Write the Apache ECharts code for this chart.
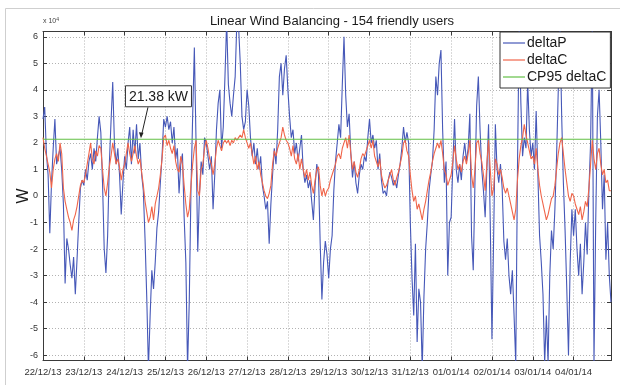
<!DOCTYPE html>
<html>
<head>
<meta charset="utf-8">
<script src="https://cdn.jsdelivr.net/npm/echarts@6/dist/echarts.min.js"></script>
<style>
  html, body { margin: 0; padding: 0; background: #fff; }
  #chart { width: 620px; height: 385px; }
</style>
</head>
<body>
<div id="chart"></div>
<script>
// Day tick labels (one per midnight, x axis counted in hours from 22/12/13 00:00)
const dayLabels = ['22/12/13','23/12/13','24/12/13','25/12/13','26/12/13','27/12/13','28/12/13',
                   '29/12/13','30/12/13','31/12/13','01/01/14','02/01/14','03/01/14','04/01/14'];
const yTicks = [-6,-5,-4,-3,-2,-1,0,1,2,3,4,5,6];

// Hourly power deviation, in units of 1e4 W
const deltaP = [
  2.9,3.35,1.6,0.8,-1.4,0.5,1.8,2.9,1.2,1.5,1.8,1.0,-0.3,-3.3,-1.6,-2.0,-2.6,-3.1,-2.3,-3.7,-2.4,-1.0,0.3,0.6,
  0.4,1.0,0.6,1.3,1.6,1.0,1.8,1.3,2.2,3.0,2.4,0.5,-2.0,-2.9,-1.5,1.2,2.8,4.3,2.0,1.2,1.8,0.8,-0.7,0.5,
  1.5,1.0,2.0,2.6,1.2,2.5,1.6,2.7,1.4,2.0,0.8,0.2,-1.6,-3.8,-6.5,-4.5,-2.8,-3.5,-2.5,-1.2,-0.6,0.5,1.5,2.9,
  2.6,3.0,2.5,2.8,2.0,2.6,1.4,1.8,0.1,1.2,1.6,-0.8,-2.5,-6.5,-4.0,0.2,3.0,5.6,2.0,-2.1,0.1,1.3,0.8,2.2,
  2.0,1.5,1.0,1.5,-0.5,0.8,2.5,3.5,4.0,1.8,2.6,4.5,6.6,4.2,3.5,3.0,3.8,4.5,6.6,6.4,5.0,3.0,2.5,2.8,
  4.0,3.4,2.2,1.5,2.0,1.2,1.8,1.0,1.5,0.4,0.0,-0.5,-0.2,-1.8,-0.3,0.8,1.8,1.2,2.5,4.5,5.0,3.8,4.8,5.3,
  4.0,3.0,2.2,2.5,1.6,2.0,1.3,1.8,2.3,1.0,0.5,0.8,0.3,0.6,-0.2,-0.9,0.4,1.2,0.8,-1.8,-3.9,-2.5,-1.7,-2.2,
  -3.1,-2.0,-1.5,0.2,1.3,2.0,2.7,2.2,4.2,6.0,3.8,2.6,3.1,1.6,0.7,1.3,0.5,0.1,0.8,1.2,1.0,1.5,1.3,2.2,
  2.9,2.0,2.3,1.8,2.1,1.0,1.6,0.6,0.1,0.2,0.0,0.6,0.9,0.7,0.4,0.6,0.3,0.8,1.2,1.8,2.6,2.0,2.4,2.0,
  -1.0,-3.1,-4.5,-1.8,-5.5,-3.5,-4.0,-6.5,-3.8,-2.0,-1.0,0.2,0.8,1.3,2.5,4.5,3.8,5.0,5.5,2.5,0.5,1.3,-3.0,-1.0,
  -0.8,1.2,2.9,1.0,0.5,1.2,0.6,1.5,2.0,1.3,1.8,3.1,-1.5,-2.8,0.5,3.4,4.5,2.5,1.0,0.2,-0.8,1.0,2.7,-1.0,
  -5.4,-1.5,2.7,1.0,0.5,1.2,0.3,-1.7,-2.4,-1.6,-3.0,-3.7,-2.8,-4.5,-6.3,1.0,6.4,3.5,1.5,2.2,1.8,4.3,2.5,1.5,
  2.0,1.0,3.2,0.8,-1.5,-2.5,-3.7,-6.3,-4.5,-6.3,-3.0,-1.3,-2.0,-0.5,1.5,4.0,6.4,3.0,0.5,-1.3,-3.5,-6.0,-2.5,-0.5,
  -1.5,-0.5,-2.0,-3.0,-1.8,-3.7,-2.5,-1.0,-2.2,0.2,2.0,6.4,-6.3,-1.0,3.0,4.0,2.0,-0.5,0.8,-2.4,-1.0,-3.0,-4.0
];

// Hourly balanced deviation, in units of 1e4 W
const deltaC = [
  2.2,1.8,1.5,1.2,0.9,0.3,1.0,1.4,1.6,1.3,2.0,1.6,0.3,-0.2,-0.5,-0.8,-1.0,-1.3,-0.9,-0.7,-0.4,0.0,0.4,0.6,
  0.5,0.8,1.2,1.6,2.0,1.4,1.2,1.7,1.5,1.9,1.8,1.0,0.3,0.0,0.5,1.1,1.5,2.0,1.6,1.2,1.4,1.1,0.6,1.0,
  1.2,1.6,2.0,1.6,1.3,1.6,1.9,1.5,1.2,1.4,0.9,0.4,-0.2,-0.6,-1.0,-0.8,-0.4,-0.9,-0.3,0.0,0.3,0.8,1.4,2.2,
  2.3,1.9,2.1,1.8,1.6,1.9,1.3,1.0,0.9,1.5,1.2,0.4,-0.3,-0.8,-0.5,0.4,1.2,1.8,2.1,0.2,0.0,1.0,1.2,1.8,
  2.1,1.8,1.4,1.2,0.8,1.2,1.8,2.1,1.9,1.7,2.0,2.1,2.0,2.1,1.9,2.1,2.0,2.2,2.1,2.2,2.3,2.2,2.5,2.2,
  2.0,1.8,2.0,1.6,1.2,1.5,1.0,1.3,0.8,0.5,0.2,0.0,-0.1,0.1,0.4,1.2,1.7,1.5,1.8,2.0,2.2,2.6,2.3,2.1,
  2.0,1.8,1.5,1.9,1.4,1.2,1.6,1.0,1.4,1.0,0.7,1.0,0.6,0.9,0.4,0.1,0.6,1.0,1.1,0.4,0.0,0.3,0.0,0.2,
  0.3,0.6,0.8,1.0,1.2,1.5,1.6,1.4,1.8,2.0,2.2,1.8,2.3,1.6,1.0,1.3,0.9,0.7,1.0,1.4,1.6,1.5,1.7,1.9,
  2.1,1.8,2.1,1.5,1.3,1.1,1.4,0.8,0.5,0.3,0.4,0.6,0.8,1.0,0.6,0.4,0.7,0.9,1.2,1.5,2.0,2.1,1.7,1.5,
  0.8,0.2,-0.2,0.0,-0.5,-0.3,-0.6,-0.9,-0.5,-0.2,0.2,0.6,0.9,1.3,1.6,1.8,2.0,1.8,2.1,1.6,1.0,0.8,0.4,0.6,
  0.8,1.3,1.9,1.4,1.0,1.2,0.9,1.3,1.5,1.2,1.6,2.1,0.8,0.3,1.0,2.0,2.1,1.6,1.3,0.8,0.2,1.2,2.1,1.0,
  0.0,0.3,1.4,1.2,0.8,1.0,0.7,0.3,0.1,0.3,0.0,-0.3,-0.6,-0.9,-0.5,0.6,1.4,1.9,2.2,2.7,2.3,2.0,1.7,1.4,
  1.5,1.2,1.8,1.0,0.4,0.0,-0.3,-0.6,-0.9,-0.7,-0.4,-0.1,0.0,0.4,1.0,1.6,2.0,2.2,1.6,1.0,0.5,0.0,-0.2,0.1,
  0.0,-0.3,-0.5,-0.7,-0.4,-0.9,-0.6,-0.2,-0.4,0.3,1.2,2.1,1.4,1.0,1.6,1.8,1.2,0.8,1.0,0.5,0.6,0.2,0.2
];

// 95th percentile of deltaC, in units of 1e4 W (21.38 kW)
const cp95 = 2.138;
// Hour at which the CP95 callout points
const calloutHour = 57.6;

const lastHour = 334;
const FONT = '"Liberation Sans", Arial, Helvetica, sans-serif';

const toPairs = arr => arr.map((v, i) => [i, v]);

const chart = echarts.init(document.getElementById('chart'), null, { renderer: 'canvas' });

const gridLineStyle = { color: '#b2b2b2', type: [1, 2], width: 1 };
const axisLineStyle = { color: '#3a3a3a', width: 1 };

chart.setOption({
  animation: false,
  backgroundColor: '#fff',
  title: {
    text: 'Linear Wind Balancing - 154 friendly users',
    left: 327, textAlign: 'center', top: 10,
    textStyle: { fontFamily: FONT, fontSize: 13, fontWeight: 'normal', color: '#1a1a1a' }
  },
  legend: {
    orient: 'vertical', left: 500, top: 32,
    data: ['deltaP', 'deltaC', 'CP95 deltaC'],
    icon: 'rect', itemWidth: 22, itemHeight: 1.2, itemGap: 3,
    padding: [4, 4, 4, 3],
    borderColor: '#333', borderWidth: 1, borderRadius: 0,
    backgroundColor: '#fff',
    textStyle: { fontFamily: FONT, fontSize: 14, color: '#1a1a1a', lineHeight: 13, padding: [0, 0, 0, -3] }
  },
  grid: { left: 43, right: 9, top: 31.5, bottom: 24.5, containLabel: false, outerBoundsMode: 'none' },
  xAxis: [{
    type: 'value', min: 0, max: lastHour, interval: 24,
    axisLine: { show: true, onZero: false, lineStyle: axisLineStyle },
    axisTick: { show: true, inside: true, length: 4, lineStyle: axisLineStyle },
    axisLabel: {
      fontFamily: FONT, fontSize: 9.5, color: '#333', margin: 7,
      formatter: v => dayLabels[Math.round(v / 24)] || ''
    },
    splitLine: { show: true, lineStyle: gridLineStyle }
  }, {
    type: 'value', position: 'top', min: 0, max: lastHour, interval: 24,
    axisLine: { show: true, onZero: false, lineStyle: axisLineStyle },
    axisTick: { show: true, inside: true, length: 4, lineStyle: axisLineStyle },
    axisLabel: { show: false }, splitLine: { show: false }
  }],
  yAxis: [{
    type: 'value', min: -6.2, max: 6.2,
    name: 'W', nameLocation: 'middle', nameGap: 11, nameRotate: 90, nameMoveOverlap: false,
    nameTextStyle: { fontFamily: FONT, fontSize: 16, color: '#1a1a1a' },
    axisLine: { show: true, onZero: false, lineStyle: axisLineStyle },
    axisTick: { show: true, inside: true, length: 4, lineStyle: axisLineStyle, customValues: yTicks },
    axisLabel: { fontFamily: FONT, fontSize: 9, color: '#333', margin: 5, customValues: yTicks },
    splitLine: { show: true, lineStyle: gridLineStyle }
  }, {
    type: 'value', position: 'right', min: -6.2, max: 6.2,
    axisLine: { show: true, onZero: false, lineStyle: axisLineStyle },
    axisTick: { show: true, inside: true, length: 4, lineStyle: axisLineStyle, customValues: yTicks },
    axisLabel: { show: false }, splitLine: { show: false }
  }],
  series: [{
    name: 'deltaP', type: 'line', data: toPairs(deltaP),
    showSymbol: false, symbol: 'none',
    lineStyle: { color: '#4658b8', width: 1.1 }, itemStyle: { color: '#4658b8' }, z: 2
  }, {
    name: 'deltaC', type: 'line', data: toPairs(deltaC),
    showSymbol: false, symbol: 'none',
    lineStyle: { color: '#f0654a', width: 1.1 }, itemStyle: { color: '#f0654a' }, z: 3
  }, {
    name: 'CP95 deltaC', type: 'line', data: [[0, cp95], [lastHour, cp95]],
    showSymbol: false, symbol: 'none',
    lineStyle: { color: '#62bf45', width: 1.2 }, itemStyle: { color: '#62bf45' }, z: 4
  }]
});

// Callout pointing at the CP95 level, plus the exponent note and figure frame
const tip = chart.convertToPixel({ gridIndex: 0 }, [calloutHour, cp95]);
const boxW = 66, boxH = 21;
const boxX = tip[0] - 16, boxY = tip[1] - 54;
chart.setOption({
  graphic: [
    { type: 'rect', z: 0, silent: true, shape: { x: 5.5, y: 8.5, width: 640, height: 400 },
      style: { fill: 'none', stroke: '#cfcfcf', lineWidth: 1 } },
    { type: 'text', left: 43, top: 17, z: 10,
      style: { text: 'x 10{s|4}', font: '7px ' + FONT, fill: '#444',
               rich: { s: { fontSize: 5, verticalAlign: 'top', padding: [0, 0, 3, 0], fill: '#444' } } } },
    { type: 'rect', z: 10, shape: { x: boxX + 0.5, y: boxY + 0.5, width: boxW, height: boxH },
      style: { fill: '#fff', stroke: '#333', lineWidth: 1 } },
    { type: 'text', z: 11, x: boxX + boxW / 2 + 0.5, y: boxY + boxH / 2 + 1,
      style: { text: (cp95 * 10).toFixed(2) + ' kW', font: '14px ' + FONT, fill: '#1a1a1a',
               align: 'center', verticalAlign: 'middle' } },
    { type: 'line', z: 10, shape: { x1: tip[0] + 7, y1: boxY + boxH + 1, x2: tip[0] + 0.8, y2: tip[1] - 5 },
      style: { stroke: '#222', lineWidth: 1 } },
    { type: 'polygon', z: 10,
      shape: { points: [[tip[0], tip[1] - 1], [tip[0] - 2, tip[1] - 7], [tip[0] + 2.6, tip[1] - 6.4]] },
      style: { fill: '#222' } }
  ]
});
</script>
</body>
</html>
